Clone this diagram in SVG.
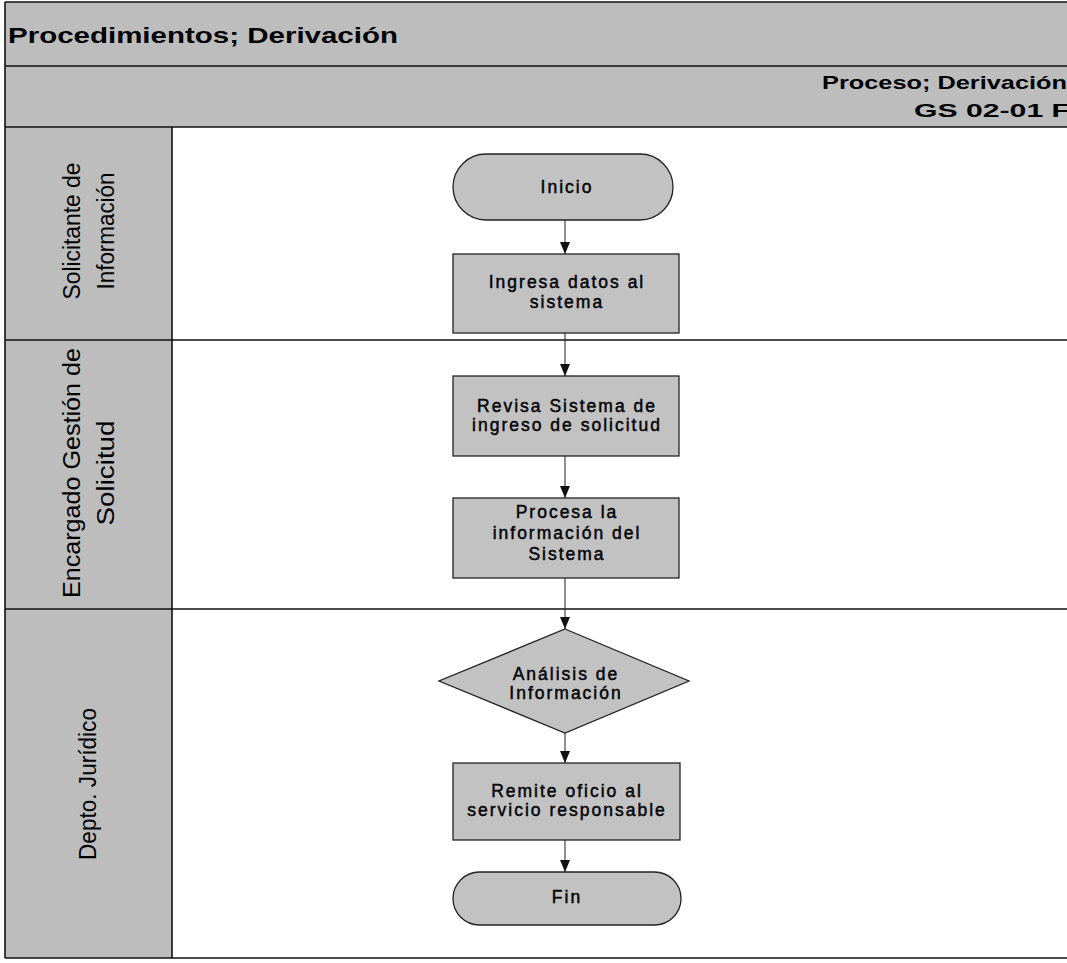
<svg xmlns="http://www.w3.org/2000/svg" width="1067" height="963" viewBox="0 0 1067 963">
  <defs>
    <style>
      .shade { fill: #bdbdbd; }
      .frame { fill: none; stroke: #111; stroke-width: 1.6; }
      .node { fill: #c2c2c2; stroke: #222; stroke-width: 1.3; }
      .edge { fill: none; stroke: #333; stroke-width: 1.1; }
      .title { font-family: "Liberation Sans", Arial, sans-serif; font-weight: bold; fill: #000; }
      .lane { font-family: "Liberation Sans", Arial, sans-serif; font-size: 23px; fill: #000; text-anchor: middle; }
      .label { font-family: "Liberation Sans", Arial, sans-serif; font-size: 17.5px; letter-spacing: 2px; fill: #000; stroke: #000; stroke-width: 0.45; text-anchor: middle; }
    </style>
    <marker id="arrow" viewBox="0 0 12 10" refX="12" refY="5" markerWidth="12" markerHeight="10" markerUnits="userSpaceOnUse" orient="auto">
      <path d="M0,0 L12,5 L0,10 Z" fill="#111"/>
    </marker>
  </defs>

  <!-- page background -->
  <rect x="0" y="0" width="1067" height="963" fill="#ffffff"/>

  <!-- header band and lane-title column -->
  <rect class="shade" x="5" y="2" width="1062" height="125"/>
  <rect class="shade" x="5" y="127" width="167" height="831"/>

  <!-- frame lines -->
  <g id="frame">
    <line class="frame" x1="5" y1="2" x2="1067" y2="2"/>
    <line class="frame" x1="5" y1="2" x2="5" y2="958"/>
    <line class="frame" x1="5" y1="66" x2="1067" y2="66"/>
    <line class="frame" x1="5" y1="127" x2="1067" y2="127"/>
    <line class="frame" x1="172" y1="127" x2="172" y2="958"/>
    <line class="frame" x1="5" y1="340" x2="1067" y2="340"/>
    <line class="frame" x1="5" y1="609" x2="1067" y2="609"/>
    <line class="frame" x1="5" y1="958" x2="1067" y2="958"/>
  </g>

  <!-- header texts -->
  <g id="header">
    <text class="title" x="8" y="43" font-size="22" textLength="390" lengthAdjust="spacingAndGlyphs">Procedimientos; Derivación</text>
    <text class="title" x="822" y="89" font-size="19" textLength="245" lengthAdjust="spacingAndGlyphs">Proceso; Derivación</text>
    <text class="title" x="914" y="117" font-size="19" textLength="156" lengthAdjust="spacingAndGlyphs">GS 02-01 F</text>
  </g>

  <!-- lane titles -->
  <g id="lane-solicitante">
    <text class="lane" transform="translate(0,231) rotate(-90)"><tspan x="0" y="80" textLength="137" lengthAdjust="spacingAndGlyphs">Solicitante de</tspan><tspan x="0" y="114" textLength="117" lengthAdjust="spacingAndGlyphs">Información</tspan></text>
  </g>
  <g id="lane-encargado">
    <text class="lane" transform="translate(0,473) rotate(-90)"><tspan x="0" y="80" textLength="250" lengthAdjust="spacingAndGlyphs">Encargado Gestión de</tspan><tspan x="0" y="114" textLength="105" lengthAdjust="spacingAndGlyphs">Solicitud</tspan></text>
  </g>
  <g id="lane-juridico">
    <text class="lane" transform="translate(0,784) rotate(-90)"><tspan x="0" y="96" textLength="152" lengthAdjust="spacingAndGlyphs">Depto. Jurídico</tspan></text>
  </g>

  <!-- connectors -->
  <g id="connectors">
    <line class="edge" x1="565" y1="220" x2="565" y2="254" marker-end="url(#arrow)"/>
    <line class="edge" x1="565" y1="333" x2="565" y2="376" marker-end="url(#arrow)"/>
    <line class="edge" x1="565" y1="456" x2="565" y2="498" marker-end="url(#arrow)"/>
    <line class="edge" x1="565" y1="578" x2="565" y2="629" marker-end="url(#arrow)"/>
    <line class="edge" x1="565" y1="733" x2="565" y2="763" marker-end="url(#arrow)"/>
    <line class="edge" x1="565" y1="840" x2="565" y2="872" marker-end="url(#arrow)"/>
  </g>

  <!-- nodes -->
  <g id="node-inicio">
    <rect class="node" x="453" y="154" width="220" height="66" rx="33" ry="33"/>
    <text class="label" x="567" y="193">Inicio</text>
  </g>
  <g id="node-ingresa">
    <rect class="node" x="453" y="254" width="226" height="79"/>
    <text class="label" x="567" y="288">Ingresa datos al</text>
    <text class="label" x="567" y="308">sistema</text>
  </g>
  <g id="node-revisa">
    <rect class="node" x="453" y="376" width="226" height="80"/>
    <text class="label" x="567" y="412">Revisa Sistema de</text>
    <text class="label" x="567" y="431">ingreso de solicitud</text>
  </g>
  <g id="node-procesa">
    <rect class="node" x="453" y="498" width="226" height="80"/>
    <text class="label" x="567" y="518">Procesa la</text>
    <text class="label" x="567" y="539">información del</text>
    <text class="label" x="567" y="560">Sistema</text>
  </g>
  <g id="node-analisis">
    <polygon class="node" points="565,629 689,681 565,733 439,681"/>
    <text class="label" x="566" y="680">Análisis de</text>
    <text class="label" x="566" y="699">Información</text>
  </g>
  <g id="node-remite">
    <rect class="node" x="453" y="763" width="227" height="77"/>
    <text class="label" x="567" y="797">Remite oficio al</text>
    <text class="label" x="567" y="816">servicio responsable</text>
  </g>
  <g id="node-fin">
    <rect class="node" x="453" y="872" width="228" height="53" rx="26.5" ry="26.5"/>
    <text class="label" x="567" y="903">Fin</text>
  </g>
</svg>
